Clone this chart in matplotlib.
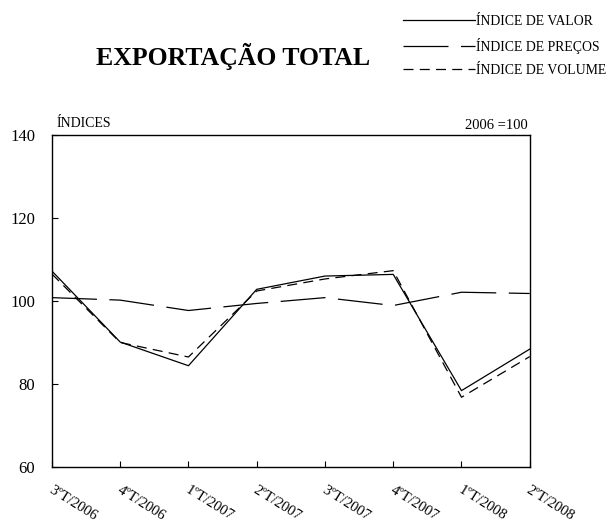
import matplotlib
matplotlib.use("Agg")
import matplotlib.pyplot as plt

plt.rcParams['font.family'] = ['Liberation Serif', 'DejaVu Serif']

categories = ["3ºT/2006", "4ºT/2006", "1ºT/2007", "2ºT/2007",
              "3ºT/2007", "4ºT/2007", "1ºT/2008", "2ºT/2008"]
valor = [107.2, 90.1, 84.4, 102.8, 106.0, 106.4, 78.4, 88.4]
precos = [100.8, 100.2, 97.7, 99.4, 100.8, 98.9, 102.1, 101.8]
volume = [106.5, 90.0, 86.5, 102.4, 105.3, 107.3, 76.8, 86.6]
yticks = [60, 80, 100, 120, 140]

fig = plt.figure(figsize=(6.11, 5.28), dpi=100)
ax = fig.add_axes([0.085, 0.1155, 0.782, 0.629])

x = list(range(len(categories)))
l1, = ax.plot(x, valor, color='black', lw=0.9, label='ÍNDICE DE VALOR')
l2, = ax.plot(x, precos, color='black', lw=0.9, dashes=(36, 10), label='ÍNDICE DE PREÇOS')
l3, = ax.plot(x, volume, color='black', lw=0.9, dashes=(8, 5), label='ÍNDICE DE VOLUME')

ax.set_xlim(0, len(categories) - 1)
ax.set_ylim(60, 140)
ax.set_yticks(yticks)
ax.set_yticklabels([str(v) for v in yticks], fontsize=12)
ax.set_xticks(x)
ax.set_xticklabels([])
ax.tick_params(axis='both', direction='in', length=4, width=0.8, color='black')
ax.tick_params(axis='y', pad=12)
for s in ax.spines.values():
    s.set_linewidth(1.0)

for i, c in enumerate(categories):
    ax.annotate(c, xy=(i, 60), xycoords='data', xytext=(1, -12),
                textcoords='offset points', rotation=-32, rotation_mode='anchor',
                ha='left', va='top', fontsize=10.5)

ax.text(0.01, 1.015, 'ÍNDICES', transform=ax.transAxes, ha='left', va='bottom', fontsize=10)
ax.text(0.995, 1.01, '2006 =100', transform=ax.transAxes, ha='right', va='bottom', fontsize=10.5)

fig.text(0.381, 0.893, 'EXPORTAÇÃO TOTAL', ha='center', va='center',
         fontsize=18.5, fontweight='bold')

fig.legend(handles=[l1, l2, l3], loc='upper right', bbox_to_anchor=(1.008, 0.99),
           frameon=False, fontsize=9.9, handlelength=5.2, handletextpad=0.1,
           labelspacing=0.72, borderpad=0.2)

fig.savefig('out.png', dpi=100)
